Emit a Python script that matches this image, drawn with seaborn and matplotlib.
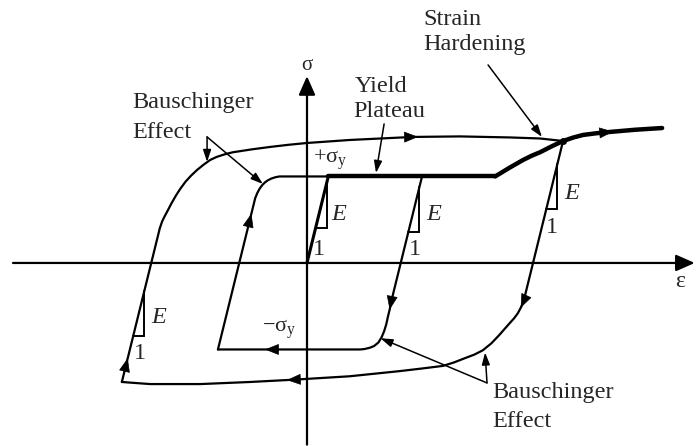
import numpy as np
import pandas as pd
import matplotlib
matplotlib.use("Agg")
import matplotlib.pyplot as plt
import seaborn as sns

# Strain in units of yield strain, stress in units of yield stress (E = 1 in these units)
E = 1.0

virgin_eps = [0.0, 1.0]
virgin_sig = [0.0, 1.0]

plateau_eps = [1.0, 8.83]
plateau_sig = [1.0, 1.0]

harden_eps = [8.83, 9.50, 10.14, 10.55, 10.94, 11.50, 12.02, 12.50, 12.96, 13.60, 14.23, 15.40, 16.67]
harden_sig = [1.00, 1.10, 1.19, 1.24, 1.28, 1.35, 1.41, 1.45, 1.48, 1.50, 1.515, 1.54, 1.56]

# first reversal from the yield plateau
unload1_eps = [5.40, 3.95, 3.88, 3.80, 3.72, 3.62, 3.50, 3.35, 3.15, 2.95, 2.70, 2.50, -4.18]
unload1_sig = [1.00, -0.45, -0.54, -0.62, -0.71, -0.79, -0.86, -0.92, -0.96, -0.98, -0.995, -1.00, -1.00]

reload1_eps = [-4.18, -2.43, -2.33, -2.22, -2.10, -1.98, -1.84, -1.68, -1.50, -1.30, 1.00]
reload1_sig = [-1.00, 0.75, 0.81, 0.86, 0.90, 0.93, 0.955, 0.975, 0.99, 1.00, 1.00]

# second reversal from the strain-hardening branch
unload2_eps = [12.02, 10.16, 10.05, 9.90, 9.72, 9.50, 9.25, 9.00, 8.65, 8.25, 7.85, 7.42, 6.90,
               6.38, 5.40, 4.36, 2.00, -0.66, -2.68, -5.00, -7.37, -8.69]
unload2_sig = [1.41, -0.45, -0.51, -0.58, -0.64, -0.70, -0.77, -0.84, -0.93, -1.01, -1.06, -1.10, -1.15,
               -1.19, -1.22, -1.25, -1.31, -1.35, -1.376, -1.40, -1.40, -1.376]

reload2_eps = [-8.69, -6.91, -6.80, -6.68, -6.55, -6.36, -6.15, -5.94, -5.70, -5.44, -5.16,
               -4.86, -4.55, -4.25, -3.94, -3.70, -3.47, -2.60, -1.74, -0.87, 0.00, 2.02,
               4.98, 7.18, 9.53, 10.94, 12.02]
reload2_sig = [-1.376, 0.40, 0.48, 0.54, 0.60, 0.69, 0.78, 0.86, 0.94, 1.01, 1.075,
               1.135, 1.19, 1.225, 1.25, 1.267, 1.28, 1.313, 1.341, 1.366, 1.387, 1.422,
               1.457, 1.463, 1.451, 1.439, 1.41]

branches = pd.concat([
    pd.DataFrame({"eps": e, "sig": s, "branch": name})
    for name, e, s in [
        ("virgin", virgin_eps, virgin_sig),
        ("plateau", plateau_eps, plateau_sig),
        ("harden", harden_eps, harden_sig),
        ("unload1", unload1_eps, unload1_sig),
        ("reload1", reload1_eps, reload1_sig),
        ("unload2", unload2_eps, unload2_sig),
        ("reload2", reload2_eps, reload2_sig),
    ]
], ignore_index=True)

sns.set_theme(style="white")
plt.rcParams["font.family"] = ["Liberation Serif", "DejaVu Serif"]
plt.rcParams["mathtext.fontset"] = "custom"
plt.rcParams["mathtext.rm"] = "Liberation Serif"
plt.rcParams["mathtext.it"] = "Liberation Serif:italic"

fig = plt.figure(figsize=(6.96, 4.46), dpi=100)
ax = fig.add_axes([0, 0, 1, 1])
ax.set_xlim(-14.41, 18.26)
ax.set_ylim(-2.116, 3.040)
ax.axis("off")

widths = {"virgin": 2.2, "plateau": 3.2, "harden": 3.2,
          "unload1": 1.6, "reload1": 1.6, "unload2": 1.6, "reload2": 1.6}
for name, grp in branches.groupby("branch", sort=False):
    sns.lineplot(data=grp, x="eps", y="sig", sort=False, estimator=None,
                 color="black", linewidth=widths[name], ax=ax, legend=False)
ax.set_xlabel("")
ax.set_ylabel("")

# coordinate axes with arrowheads
axis_style = dict(arrowstyle="-|>,head_length=0.95,head_width=0.42",
                  color="black", lw=1.6, shrinkA=0, shrinkB=0, mutation_scale=12)
ax.annotate("", xy=(18.2, 0.0), xytext=(-13.8, 0.0), arrowprops=axis_style)
ax.annotate("", xy=(0.0, 2.16), xytext=(0.0, -2.10), arrowprops=axis_style)
ax.text(0.0, 2.28, "σ", ha="center", va="center", fontsize=15)
ax.text(17.5, -0.22, "ε", ha="center", va="center", fontsize=17)


def arrow_on(eps, sig, near, ms=12):
    """Filled arrowhead on a branch, at the point of the branch closest to `near`."""
    pts = ax.transData.transform(np.column_stack([eps, sig]))
    p = ax.transData.transform(near)
    seg = np.diff(pts, axis=0)
    lens = np.hypot(seg[:, 0], seg[:, 1])
    cum = np.concatenate([[0.0], np.cumsum(lens)])
    best, best_s = np.inf, 0.0
    for i in range(len(seg)):
        if lens[i] == 0:
            continue
        t = np.clip(np.dot(p - pts[i], seg[i]) / lens[i] ** 2, 0, 1)
        q = pts[i] + t * seg[i]
        d = np.hypot(*(q - p))
        if d < best:
            best, best_s = d, cum[i] + t * lens[i]

    def at(s):
        xy = (np.interp(s, cum, pts[:, 0]), np.interp(s, cum, pts[:, 1]))
        return ax.transData.inverted().transform(xy)

    ax.annotate("", xy=at(best_s), xytext=at(best_s - 6),
                arrowprops=dict(arrowstyle="-|>,head_length=0.75,head_width=0.3",
                                color="black", lw=0.5, shrinkA=0, shrinkB=0,
                                mutation_scale=ms))


arrow_on(reload2_eps, reload2_sig, (5.21, 1.457))
arrow_on(harden_eps, harden_sig, (14.37, 1.514))
arrow_on(unload1_eps, unload1_sig, (3.94, -0.543))
arrow_on(unload2_eps, unload2_sig, (10.05, -0.52))
arrow_on(unload1_eps, unload1_sig, (-1.97, -1.0))
arrow_on(unload2_eps, unload2_sig, (-0.94, -1.364))
arrow_on(reload2_eps, reload2_sig, (-8.45, -1.098))
arrow_on(reload1_eps, reload1_sig, (-2.54, 0.566))

# junction of the second reversal with the hardening branch
ax.plot(harden_eps[6], harden_sig[6], "o", color="black", ms=4)


def slope_triangle(eps0, sig0, sig_low, leg=0.52):
    """Slope marker (run 1, rise E) under an elastic branch through (eps0, sig0)."""
    e_low = eps0 + (sig_low - sig0) / E
    xs = [e_low, e_low + leg, e_low + leg]
    ys = [sig_low, sig_low, sig_low + E * leg]
    ax.plot(xs, ys, color="black", lw=1.4, solid_joinstyle="miter")


slope_triangle(virgin_eps[0], virgin_sig[0], 0.40)
slope_triangle(unload1_eps[0], unload1_sig[0], 0.36)
slope_triangle(unload2_eps[0], unload2_sig[0], 0.62)
slope_triangle(reload2_eps[0], reload2_sig[0], -0.84)

tri_labels = [((1.50, 0.555), (0.55, 0.15)),
              ((5.94, 0.555), (5.07, 0.15)),
              ((12.42, 0.80), (11.50, 0.41)),
              ((-6.95, -0.636), (-7.84, -1.05))]
for (ex, ey), (ox, oy) in tri_labels:
    ax.text(ex, ey, "E", fontstyle="italic", fontsize=17.5, ha="center", va="center")
    ax.text(ox, oy, "1", fontsize=17.5, ha="center", va="center")

ax.text(0.28, 1.156, r"$+\mathrm{\sigma_y}$", fontsize=16, ha="left", va="baseline")
ax.text(-2.10, -0.80, r"$-\mathrm{\sigma_y}$", fontsize=16, ha="left", va="baseline")

# callouts
label_kw = dict(fontsize=17.5, ha="left", va="baseline")
ax.text(5.45, 2.75, "Strain", **label_kw)
ax.text(5.45, 2.46, "Hardening", **label_kw)
ax.text(2.25, 1.98, "Yield", **label_kw)
ax.text(2.16, 1.69, "Plateau", **label_kw)
ax.text(-8.22, 1.79, "Bauschinger", **label_kw)
ax.text(-8.22, 1.445, "Effect", **label_kw)
ax.text(8.69, -1.56, "Bauschinger", **label_kw)
ax.text(8.69, -1.90, "Effect", **label_kw)

pointer = dict(arrowstyle="-|>,head_length=0.6,head_width=0.2", color="black",
               lw=1.1, shrinkA=0, shrinkB=0, mutation_scale=12)
ax.annotate("", xy=(11.03, 1.457), xytext=(8.50, 2.289), arrowprops=pointer)
ax.annotate("", xy=(3.24, 1.04), xytext=(3.62, 1.607), arrowprops=pointer)
ax.annotate("", xy=(-4.69, 1.168), xytext=(-4.69, 1.457), arrowprops=pointer)
ax.annotate("", xy=(-2.07, 0.913), xytext=(-4.69, 1.457), arrowprops=pointer)
ax.annotate("", xy=(8.36, -1.035), xytext=(8.45, -1.387), arrowprops=pointer)
ax.annotate("", xy=(3.45, -0.87), xytext=(8.45, -1.387), arrowprops=pointer)

fig.savefig("out.png", dpi=100, facecolor="white")
